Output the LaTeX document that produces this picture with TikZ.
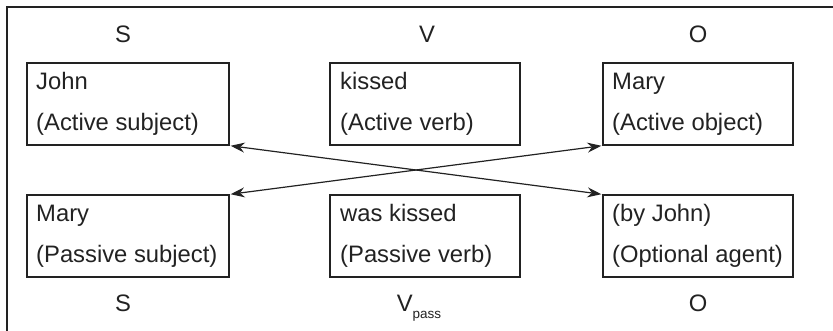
\documentclass[tikz,border=0pt]{standalone}
\usepackage{fontspec}
\setmainfont{Liberation Sans}
\usetikzlibrary{arrows.meta}
\definecolor{ink}{HTML}{222222}
\tikzset{
  box/.style={draw=ink, line width=1.3pt, rectangle, inner sep=0pt},
  txt/.style={anchor=base west, inner sep=0pt, text=ink, font=\fontsize{23.8}{28}\selectfont},
  lab/.style={anchor=base, inner sep=0pt, text=ink, font=\fontsize{23.8}{28}\selectfont},
  link/.style={draw=ink, line width=1.2pt, {Stealth[length=14pt,width=10pt]}-{Stealth[length=14pt,width=10pt]}, shorten <=1pt, shorten >=1pt}
}
\begin{document}
\begin{tikzpicture}[x=1pt,y=-1pt]
\useasboundingbox (0,0) rectangle (833,331);
\draw[ink, line width=1.3pt] (7,340) -- (7,7) -- (840,7);
% boxes
\node[box, minimum width=202pt, minimum height=82pt] (b1) at (128,104) {};
\node[box, minimum width=190pt, minimum height=82pt] (b2) at (425,104) {};
\node[box, minimum width=190pt, minimum height=82pt] (b3) at (698,104) {};
\node[box, minimum width=202pt, minimum height=82pt] (b4) at (128,236) {};
\node[box, minimum width=190pt, minimum height=82pt] (b5) at (425,236) {};
\node[box, minimum width=190pt, minimum height=82pt] (b6) at (698,236) {};
% texts
\node[txt] (t1a) at (36,90) {John};
\node[txt] (t1b) at (36,131) {(Active subject)};
\node[txt] (t2a) at (340,90) {kissed};
\node[txt] (t2b) at (340,131) {(Active verb)};
\node[txt] (t3a) at (612,90) {Mary};
\node[txt] (t3b) at (612,131) {(Active object)};
\node[txt] (t4a) at (36,222) {Mary};
\node[txt] (t4b) at (36,263) {(Passive subject)};
\node[txt] (t5a) at (340,222) {was kissed};
\node[txt] (t5b) at (340,263) {(Passive verb)};
\node[txt] (t6a) at (612,222) {(by John)};
\node[txt] (t6b) at (612,263) {(Optional agent)};
% role labels
\node[lab] (s1) at (123,43) {S};
\node[lab] (v1) at (427,43) {V};
\node[lab] (o1) at (698,43) {O};
\node[lab] (s2) at (123,312) {S};
\node[lab] (v2) at (419,312) {V\raisebox{-6pt}{\fontsize{13.5}{14}\selectfont pass}};
\node[lab] (o2) at (698,312) {O};
% arrows
\draw[link] (b1.south east) -- (b6.north west);
\draw[link] (b4.north east) -- (b3.south west);
\end{tikzpicture}
\end{document}
